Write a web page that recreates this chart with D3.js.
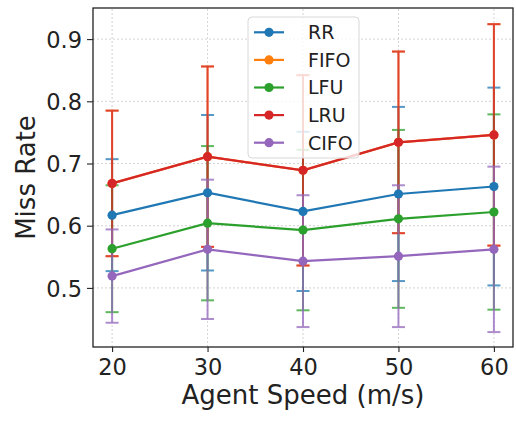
<!DOCTYPE html>
<html>
<head>
<meta charset="utf-8">
<script src="https://cdn.jsdelivr.net/npm/d3@7"></script>
<style>
  body { margin: 0; background: #fff; }
  text { font-family: "DejaVu Sans", sans-serif; fill: #222; }
</style>
</head>
<body>
<div id="chart"></div>
<script>
// chart data
const speeds = [20, 30, 40, 50, 60];
const seriesNames = ["RR", "FIFO", "LFU", "LRU", "CIFO"];
const colors = ["#1f77b4", "#ff7f0e", "#2ca02c", "#d62728", "#9467bd"];

const rrMean = [0.617, 0.653, 0.623, 0.651, 0.663];
const rrErr = [0.090, 0.125, 0.128, 0.140, 0.159];
const fifoMean = [0.668, 0.711, 0.689, 0.734, 0.746];
const fifoErr = [0.117, 0.145, 0.153, 0.146, 0.178];
const lfuMean = [0.563, 0.604, 0.593, 0.611, 0.622];
const lfuErr = [0.102, 0.124, 0.129, 0.143, 0.157];
const lruMean = [0.668, 0.711, 0.689, 0.734, 0.746];
const lruErr = [0.117, 0.145, 0.153, 0.146, 0.178];
const cifoMean = [0.519, 0.562, 0.543, 0.551, 0.562];
const cifoErr = [0.075, 0.112, 0.106, 0.114, 0.133];

const yTicks = [0.5, 0.6, 0.7, 0.8, 0.9];

const width = 516, height = 421;
const margin = {top: 8, right: 3, bottom: 74, left: 93};

// build series table
const means = [rrMean, fifoMean, lfuMean, lruMean, cifoMean];
const errs = [rrErr, fifoErr, lfuErr, lruErr, cifoErr];
const series = seriesNames.map(function(name, i) {
    return {
        name: name,
        color: colors[i],
        points: speeds.map(function(s, j) {
            return {x: s, y: means[i][j], e: errs[i][j]};
        })
    };
});

const svg = d3.select("#chart").append("svg")
    .attr("width", width)
    .attr("height", height);

const x = d3.scaleLinear().domain([18, 62]).range([margin.left, width - margin.right]);
const y = d3.scaleLinear().domain([0.405, 0.95]).range([height - margin.bottom, margin.top]);

// grid
const grid = svg.append("g");
grid.selectAll(".gx").data(speeds).enter().append("line")
    .attr("x1", function(d) { return x(d); })
    .attr("x2", function(d) { return x(d); })
    .attr("y1", y.range()[0]).attr("y2", y.range()[1])
    .attr("stroke", "#c8c8c8").attr("stroke-width", 0.8).attr("stroke-dasharray", "2,2");
grid.selectAll(".gy").data(yTicks).enter().append("line")
    .attr("y1", function(d) { return y(d); })
    .attr("y2", function(d) { return y(d); })
    .attr("x1", x.range()[0]).attr("x2", x.range()[1])
    .attr("stroke", "#c8c8c8").attr("stroke-width", 0.8).attr("stroke-dasharray", "2,2");

// error bars first, then lines on top
const capW = 6.5;
series.forEach(function(s) {
    const g = svg.append("g").attr("opacity", 0.75);
    g.selectAll(".eb").data(s.points).enter().append("line")
        .attr("x1", function(d) { return x(d.x); })
        .attr("x2", function(d) { return x(d.x); })
        .attr("y1", function(d) { return y(d.y - d.e); })
        .attr("y2", function(d) { return y(d.y + d.e); })
        .attr("stroke", s.color).attr("stroke-width", 2);
    [-1, 1].forEach(function(sign) {
        g.selectAll(".cap" + sign).data(s.points).enter().append("line")
            .attr("x1", function(d) { return x(d.x) - capW; })
            .attr("x2", function(d) { return x(d.x) + capW; })
            .attr("y1", function(d) { return y(d.y + sign * d.e); })
            .attr("y2", function(d) { return y(d.y + sign * d.e); })
            .attr("stroke", s.color).attr("stroke-width", 2);
    });
});

const line = d3.line().x(function(d) { return x(d.x); }).y(function(d) { return y(d.y); });
series.forEach(function(s) {
    const g = svg.append("g");
    g.append("path").datum(s.points)
        .attr("d", line)
        .attr("fill", "none")
        .attr("stroke", s.color)
        .attr("stroke-width", 2.2);
    g.selectAll("circle").data(s.points).enter().append("circle")
        .attr("cx", function(d) { return x(d.x); })
        .attr("cy", function(d) { return y(d.y); })
        .attr("r", 4.6)
        .attr("fill", s.color);
});

// axes
const xAxis = svg.append("g")
    .attr("transform", `translate(0, ${height - margin.bottom})`)
    .call(d3.axisBottom(x).tickValues(speeds).tickSize(5).tickPadding(6));
const yAxis = svg.append("g")
    .attr("transform", `translate(${margin.left}, 0)`)
    .call(d3.axisLeft(y).tickValues(yTicks).tickFormat(d3.format(".1f")).tickSize(6).tickPadding(5));
[xAxis, yAxis].forEach(function(a) {
    a.select(".domain").remove();
    a.selectAll(".tick line").attr("stroke", "#222").attr("stroke-width", 1.1);
    a.selectAll(".tick text").style("font-size", "22.5px").attr("fill", "#222");
});
xAxis.selectAll(".tick text").attr("dy", "0.76em");
yAxis.selectAll(".tick text").attr("dy", "0.36em");

// frame
svg.append("rect")
    .attr("x", margin.left).attr("y", margin.top)
    .attr("width", width - margin.left - margin.right)
    .attr("height", height - margin.top - margin.bottom)
    .attr("fill", "none").attr("stroke", "#222").attr("stroke-width", 1.3);

// axis labels
svg.append("text")
    .attr("x", (margin.left + width - margin.right) / 2)
    .attr("y", 404)
    .attr("text-anchor", "middle")
    .style("font-size", "26px")
    .text("Agent Speed (m/s)");
svg.append("text")
    .attr("transform", `translate(35, ${(margin.top + height - margin.bottom) / 2}) rotate(-90)`)
    .attr("text-anchor", "middle")
    .style("font-size", "26px")
    .text("Miss Rate");

// legend
const legend = svg.append("g").attr("transform", "translate(248, 17)");
legend.append("rect")
    .attr("width", 111).attr("height", 141)
    .attr("rx", 4)
    .attr("fill", "#fff").attr("fill-opacity", 0.8)
    .attr("stroke", "#d8d8d8").attr("stroke-width", 1);
const items = legend.selectAll(".item").data(series).enter().append("g")
    .attr("transform", function(d, i) { return `translate(0, ${15.3 + i * 27.6})`; });
items.append("line")
    .attr("x1", 6).attr("x2", 36)
    .attr("stroke", function(d) { return d.color; })
    .attr("stroke-width", 2.2);
items.append("circle")
    .attr("cx", 21).attr("r", 4.6)
    .attr("fill", function(d) { return d.color; });
items.append("text")
    .attr("x", 60).attr("dy", "0.36em")
    .style("font-size", "19px")
    .text(function(d) { return d.name; });
</script>
</body>
</html>
